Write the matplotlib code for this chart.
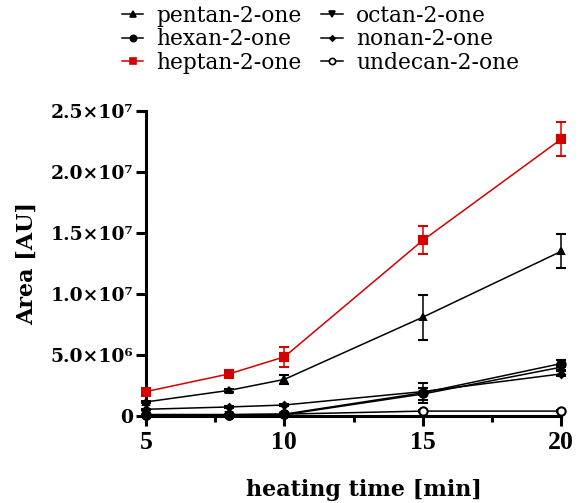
import matplotlib
matplotlib.use("Agg")
import matplotlib.pyplot as plt
from matplotlib.lines import Line2D

plt.rcParams['font.family'] = ['DejaVu Serif']

time_pts = [5, 8, 10, 15, 20]
pentan = [1.15e6, 2.1e6, 3.0e6, 8.1e6, 13.5e6]
pentan_err = [0.1e6, 0.1e6, 0.35e6, 1.85e6, 1.4e6]
hexan = [0.05e6, 0.1e6, 0.15e6, 1.9e6, 4.3e6]
hexan_err = [0.03e6, 0.05e6, 0.1e6, 0.8e6, 0.3e6]
heptan = [2.0e6, 3.45e6, 4.85e6, 14.4e6, 22.7e6]
heptan_err = [0.1e6, 0.1e6, 0.82e6, 1.15e6, 1.4e6]
octan = [0.05e6, 0.05e6, 0.1e6, 1.8e6, 4.0e6]
octan_err = [0.02e6, 0.02e6, 0.05e6, 0.5e6, 0.2e6]
nonan = [0.55e6, 0.74e6, 0.9e6, 2.0e6, 3.45e6]
nonan_err = [0.05e6, 0.05e6, 0.1e6, 0.3e6, 0.2e6]
undecan = [0.12e6, 0.12e6, 0.15e6, 0.4e6, 0.4e6]
undecan_err = [0.02e6, 0.02e6, 0.02e6, 0.05e6, 0.05e6]

yticks = [0, 5e6, 1e7, 1.5e7, 2e7, 2.5e7]
ytick_labels = ['0', '5.0×10⁶', '1.0×10⁷', '1.5×10⁷', '2.0×10⁷', '2.5×10⁷']
xticks = [5, 10, 15, 20]

fig = plt.figure(figsize=(5.83, 5.03), dpi=100)
ax = fig.add_axes([0.2504, 0.173, 0.712, 0.606])

series = [
    ('pentan-2-one', pentan, pentan_err, '^', 'black', 'black', 5, 4),
    ('hexan-2-one', hexan, hexan_err, 'o', 'black', 'black', 6, 4),
    ('heptan-2-one', heptan, heptan_err, 's', '#d40000', '#d40000', 5.5, 5),
    ('octan-2-one', octan, octan_err, 'v', 'black', 'black', 5, 4),
    ('nonan-2-one', nonan, nonan_err, 'D', 'black', 'black', 3.5, 4),
    ('undecan-2-one', undecan, undecan_err, 'o', 'black', 'white', 6, 3),
]
handles = []
for name, vals, err, m, c, fc, ms, z in series:
    ax.errorbar(time_pts, vals, yerr=err, marker=m, color=c, mfc=fc, mec=c,
                mew=1.5, ms=ms, lw=1.1, capsize=3.5, elinewidth=1.1, capthick=1.1,
                clip_on=False, zorder=z)
    handles.append(Line2D([], [], marker=m, color=c, mfc=fc, mec=c, mew=1.2,
                          ms=ms * 0.75, lw=1.1))

ax.set_xlim(5, 20)
ax.set_ylim(0, 2.5e7)
ax.set_xticks(xticks)
ax.set_xticks([7.5, 12.5, 17.5], minor=True)
ax.set_yticks(yticks)
ax.set_yticklabels(ytick_labels)
for s in ['top', 'right']:
    ax.spines[s].set_visible(False)
for s in ['left', 'bottom']:
    ax.spines[s].set_linewidth(2.2)
ax.tick_params(axis='both', which='major', width=2.2, length=7)
ax.tick_params(axis='x', which='major', labelsize=18.5, pad=4)
ax.tick_params(axis='y', which='major', labelsize=13.5, pad=2)
ax.tick_params(axis='x', which='minor', width=2.2, length=4.5)
for lab in ax.get_xticklabels():
    lab.set_fontweight('bold')
    lab.set_fontfamily('Liberation Serif')
for lab in ax.get_yticklabels():
    lab.set_fontweight('bold')
ax.set_xlabel('heating time [min]', fontsize=16, fontweight='bold')
ax.xaxis.set_label_coords(0.525, -0.208)
ax.set_ylabel('Area [AU]', fontsize=16, fontweight='bold', labelpad=9)

leg = fig.legend(handles=handles, labels=[s[0] for s in series], ncol=2, frameon=False,
                 loc='upper left', bbox_to_anchor=(0.175, 1.03), fontsize=15.7,
                 handlelength=1.0, handletextpad=0.6, columnspacing=0.9,
                 labelspacing=0.08)

fig.savefig('out.png', dpi=100)
